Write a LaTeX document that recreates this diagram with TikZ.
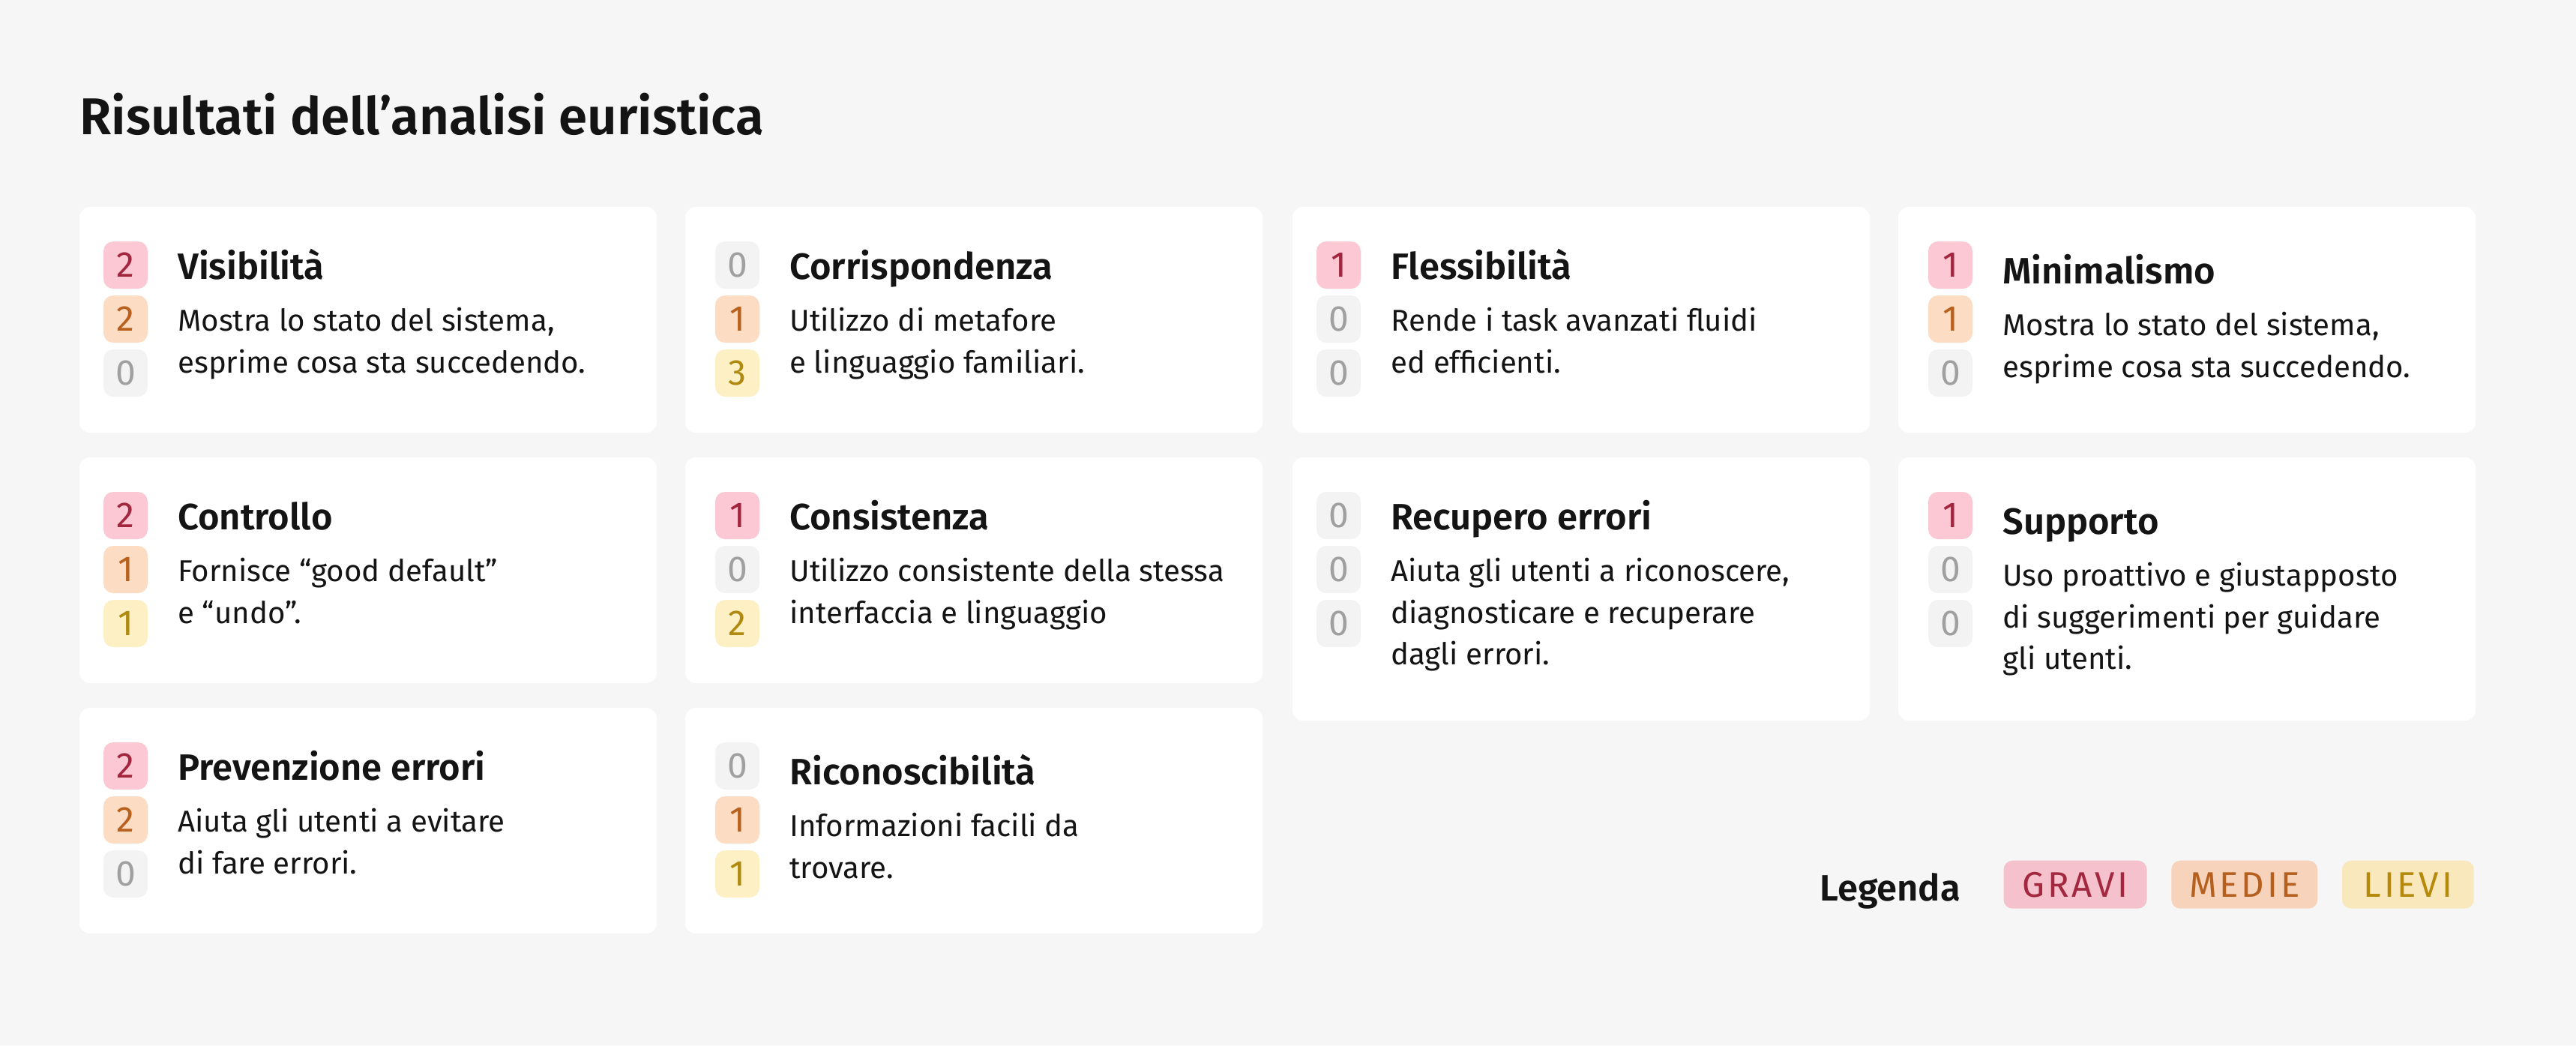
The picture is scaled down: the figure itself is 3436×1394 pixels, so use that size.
\documentclass[tikz,border=0pt]{standalone}
\usepackage{fontspec}
\setmainfont{Fira Sans}[BoldFont={Fira Sans SemiBold}]
\definecolor{bg}{HTML}{F6F6F6}
\definecolor{ink}{HTML}{141414}
\definecolor{cfr}{HTML}{FBC8D4}\definecolor{ctr}{HTML}{A3263F}
\definecolor{cfo}{HTML}{FDDCC4}\definecolor{cto}{HTML}{B8601E}
\definecolor{cfy}{HTML}{FDF0C4}\definecolor{cty}{HTML}{B08A10}
\definecolor{cfg}{HTML}{F3F3F3}\definecolor{ctg}{HTML}{A0A0A0}
\definecolor{pfr}{HTML}{F5C1CC}\definecolor{ptr}{HTML}{A3283F}
\definecolor{pfo}{HTML}{F7D3BC}\definecolor{pto}{HTML}{B5601E}
\definecolor{pfy}{HTML}{F8E8BB}\definecolor{pty}{HTML}{B58A0C}
\tikzset{
  card/.style={anchor=north west, fill=white, draw=none, rounded corners=7pt,
    minimum width=385pt, inner sep=0pt, outer sep=0pt},
  badge/.style={minimum width=29.5pt, minimum height=31.5pt, inner sep=0pt,
    rounded corners=6.5pt, font=\fontsize{24}{24}\selectfont},
  ctitle/.style={anchor=base west, inner sep=0pt, text=ink,
    font=\bfseries\fontsize{24.45}{28}\selectfont},
  cdesc/.style={anchor=base west, inner sep=0pt, text=ink,
    font=\fontsize{20.1}{24}\selectfont},
  pill/.style={minimum height=32pt, inner sep=0pt, rounded corners=6pt,
    font=\fontsize{23.7}{24}\selectfont\addfontfeatures{LetterSpace=8}},
}
\newcommand\mkcard[9]{%
  \node[card, minimum height=#4*0.5pt] (#1) at (#2,#3) {};
  \foreach \s/\v [count=\i from 0] in {#8}{%
    \node[badge, fill=cf\s, text=ct\s] (#1b\i) at (#2+#5+29.5, #3+77.5+72*\i) {\v};
  }%
  \node[ctitle] (#1t) at (#2+#5+99, #3+96.7+#6) {#7};
  \foreach \l [count=\j from 0] in {#9}{%
    \node[cdesc] (#1d\j) at (#2+#5+99, #3+165.7+#6+55.5*\j) {\l};
  }%
}
\begin{document}
\begin{tikzpicture}[x=0.5pt,y=-0.5pt]
\fill[bg] (0,0) rectangle (3436,1394);
\useasboundingbox (0,0) rectangle (3436,1394);
\node[anchor=base west, inner sep=0pt, text=ink,
  font=\bfseries\fontsize{34.5}{40}\selectfont] (title) at (106,179)
  {Risultati dell’analisi euristica};
\mkcard{c1}{106}{276}{301}{32}{0}{Visibilità}{r/2,o/2,g/0}
  {{Mostra lo stato del sistema,},{esprime cosa sta succedendo.}}
\mkcard{c2}{914}{276}{301}{40}{0}{Corrispondenza}{g/0,o/1,y/3}
  {{Utilizzo di metafore},{e linguaggio familiari.}}
\mkcard{c3}{1724}{276}{301}{32}{0}{Flessibilità}{r/1,g/0,g/0}
  {{Rende i task avanzati fluidi},{ed efficienti.}}
\mkcard{c4}{2532}{276}{301}{40}{6}{Minimalismo}{r/1,o/1,g/0}
  {{Mostra lo stato del sistema,},{esprime cosa sta succedendo.}}
\mkcard{c5}{106}{610}{301}{32}{0}{Controllo}{r/2,o/1,y/1}
  {{Fornisce “good default”},{e “undo”.}}
\mkcard{c6}{914}{610}{301}{40}{0}{Consistenza}{r/1,g/0,y/2}
  {{Utilizzo consistente della stessa},{interfaccia e linguaggio}}
\mkcard{c7}{1724}{610}{351}{32}{0}{Recupero errori}{g/0,g/0,g/0}
  {{Aiuta gli utenti a riconoscere,},{diagnosticare e recuperare},{dagli errori.}}
\mkcard{c8}{2532}{610}{351}{40}{6}{Supporto}{r/1,g/0,g/0}
  {{Uso proattivo e giustapposto},{di suggerimenti per guidare},{gli utenti.}}
\mkcard{c9}{106}{944}{301}{32}{0}{Prevenzione errori}{r/2,o/2,g/0}
  {{Aiuta gli utenti a evitare},{di fare errori.}}
\mkcard{c10}{914}{944}{301}{40}{6}{Riconoscibilità}{g/0,o/1,y/1}
  {{Informazioni facili da},{trovare.}}
\node[ctitle] (leg) at (2427,1201.7) {Legenda};
\node[pill, fill=pfr, text=ptr, minimum width=95.5pt] (gravi) at (2768,1179.7) {GRAVI};
\node[pill, fill=pfo, text=pto, minimum width=97.5pt] (medie) at (2993.75,1179.7) {MEDIE};
\node[pill, fill=pfy, text=pty, minimum width=87.85pt] (lievi) at (3211.85,1179.7) {LIEVI};
\end{tikzpicture}
\end{document}
